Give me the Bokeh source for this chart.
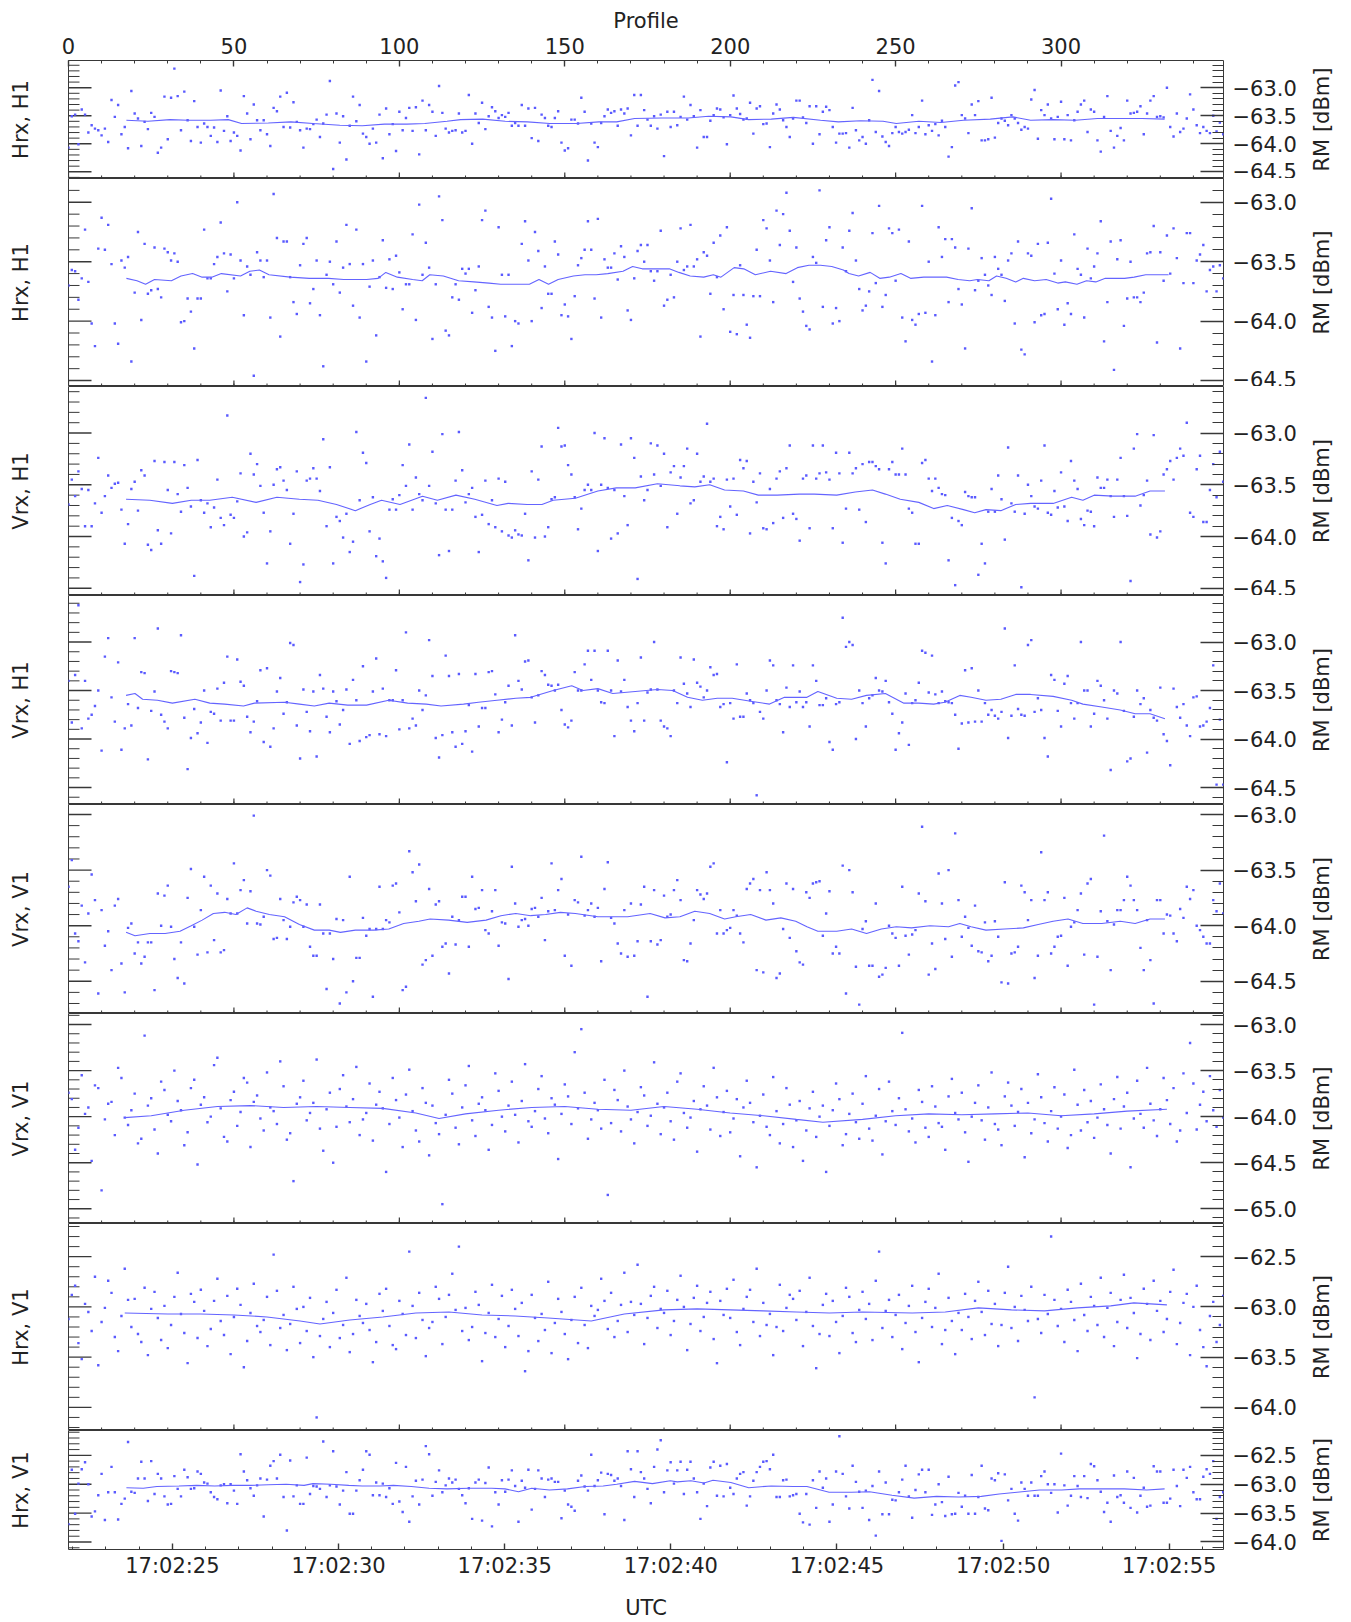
import math
import numpy as np
from bokeh.plotting import figure
from bokeh.layouts import column, row
from bokeh.models import (Range1d, LinearAxis, FixedTicker, SingleIntervalTicker,
                          CustomJSTickFormatter)
from bokeh.core.properties import value
from bokeh.embed import file_html
from bokeh.resources import INLINE

# ---------------------------------------------------------------------------
# Received power (RM, dBm) per profile for each channel pair, plus running mean
# ---------------------------------------------------------------------------
LABELS = ["Hrx, H1", "Hrx, H1", "Vrx, H1", "Vrx, H1",
          "Vrx, V1", "Vrx, V1", "Hrx, V1", "Hrx, V1"]

RM_1 = [
    -64.07, -63.51, -63.48, -64.01, -63.39, -63.48, -63.80, -63.67, -63.73, -63.76,
    -63.85, -63.73, -63.97, -63.22, -63.52, -63.31, -63.83, -63.70, -64.08, -63.06,
    -63.46, -63.55, -64.04, -63.61, -63.74, -63.45, -63.52, -64.16, -64.07, -63.16,
    -63.92, -63.18, -62.66, -63.15, -63.76, -63.07, -63.58, -63.95, -63.24, -63.70,
    -63.98, -63.64, -63.70, -63.86, -63.71, -63.97, -63.05, -63.77, -63.51, -63.95,
    -63.80, -63.86, -64.12, -63.15, -63.46, -63.92, -63.30, -63.58, -63.76, -63.58,
    -63.83, -64.04, -63.36, -63.42, -63.16, -63.70, -63.09, -63.71, -63.26, -63.61,
    -63.76, -64.07, -63.73, -63.74, -63.65, -63.57, -63.88, -63.64, -63.48, -62.88,
    -64.45, -63.46, -63.98, -63.51, -64.28, -63.68, -63.16, -63.60, -63.31, -63.82,
    -63.88, -64.00, -63.73, -63.98, -63.48, -64.26, -63.37, -63.83, -63.65, -64.13,
    -63.43, -63.76, -63.54, -63.36, -63.77, -63.35, -64.19, -63.23, -63.76, -63.31,
    -63.43, -63.86, -62.97, -63.45, -63.73, -63.80, -63.77, -63.76, -63.46, -63.80,
    -63.77, -63.13, -64.00, -63.46, -63.63, -63.27, -63.74, -63.51, -63.35, -63.42,
    -63.54, -63.49, -63.52, -63.45, -63.68, -63.63, -63.68, -63.31, -63.68, -63.37,
    -63.90, -63.36, -63.95, -63.48, -63.54, -63.68, -63.70, -63.54, -63.42, -63.98,
    -64.12, -64.08, -63.57, -63.57, -63.64, -63.18, -63.43, -64.30, -63.64, -63.98,
    -64.06, -63.63, -63.51, -63.39, -63.45, -63.42, -63.68, -63.39, -63.46, -63.37,
    -63.85, -63.13, -63.68, -63.13, -63.40, -63.57, -63.68, -63.51, -63.73, -63.48,
    -64.22, -63.43, -63.70, -63.43, -63.67, -63.52, -63.16, -63.57, -63.31, -63.51,
    -64.07, -63.40, -63.88, -63.88, -63.59, -63.49, -63.37, -63.39, -63.53, -64.01,
    -63.49, -63.14, -63.37, -63.47, -63.57, -63.55, -63.27, -63.82, -63.37, -63.33,
    -63.65, -63.64, -64.06, -63.46, -63.30, -63.39, -63.58, -63.70, -63.88, -63.55,
    -63.23, -63.23, -63.53, -63.63, -63.33, -64.00, -63.33, -63.83, -63.43, -63.34,
    -63.40, -63.70, -63.98, -63.82, -63.82, -63.81, -64.07, -63.36, -63.76, -63.94,
    -63.88, -64.00, -63.58, -62.86, -63.79, -63.06, -63.87, -63.97, -64.04, -63.81,
    -63.70, -63.79, -63.82, -63.79, -63.75, -63.49, -63.81, -63.70, -63.23, -63.83,
    -63.67, -63.77, -63.65, -63.85, -63.59, -63.70, -64.23, -64.06, -62.96, -62.90,
    -63.49, -63.55, -63.81, -63.30, -63.49, -63.24, -63.94, -63.94, -63.92, -63.18,
    -63.89, -63.63, -63.55, -63.59, -63.67, -63.49, -63.55, -63.63, -63.75, -63.70,
    -63.73, -63.21, -63.04, -63.91, -63.40, -63.49, -63.30, -63.55, -63.92, -63.52,
    -63.25, -63.92, -63.49, -63.94, -63.58, -63.43, -63.30, -63.23, -63.79, -63.39,
    -63.43, -63.94, -64.14, -63.52, -63.15, -63.77, -64.07, -63.86, -63.72, -63.94,
    -63.23, -63.46, -63.45, -63.43, -63.33, -63.83, -63.46, -63.23, -63.15, -63.52,
    -63.51, -63.53, -63.00, -63.70, -63.87, -63.46, -63.79, -63.73, -63.55, -63.12,
    -63.39, -63.67, -63.81, -63.70, -63.77, -63.81, -63.50, -63.78, -63.62, -63.83,
]
MEAN_1_P = [17.5, 24.0, 30.7, 36.1, 42.9, 48.3, 52.3, 60.4, 67.2, 73.9, 82.0, 88.8,
            95.5, 102.3, 107.7, 114.4, 118.5, 125.2, 132.0, 138.7, 145.5, 153.5,
            160.3, 165.7, 171.1, 179.2, 187.3, 193.5, 200.2, 205.6, 212.4, 219.1,
            227.3, 232.7, 239.4, 246.2, 250.2, 257.0, 263.7, 270.5, 278.6, 285.4,
            290.8, 297.5, 304.3, 311.0, 317.8, 324.5, 331.3]
MEAN_1_V = [-63.58, -63.60, -63.57, -63.58, -63.58, -63.57, -63.64, -63.63, -63.61,
            -63.64, -63.67, -63.68, -63.65, -63.65, -63.64, -63.60, -63.57, -63.56,
            -63.60, -63.61, -63.64, -63.64, -63.61, -63.61, -63.55, -63.54, -63.54,
            -63.51, -63.52, -63.57, -63.56, -63.53, -63.58, -63.61, -63.59, -63.60,
            -63.64, -63.60, -63.62, -63.58, -63.56, -63.52, -63.58, -63.57, -63.58,
            -63.55, -63.55, -63.55, -63.56]

RM_2 = [
    -63.70, -63.57, -63.58, -63.82, -63.64, -63.23, -63.67, -64.02, -64.21, -63.39,
    -63.13, -63.40, -63.19, -63.52, -64.02, -64.19, -63.49, -63.55, -63.46, -64.34,
    -63.76, -63.25, -63.99, -63.35, -63.77, -63.74, -63.38, -63.73, -63.80, -63.39,
    -63.42, -63.49, -63.43, -63.50, -64.01, -64.00, -63.81, -63.92, -64.23, -63.81,
    -63.81, -63.23, -63.64, -63.64, -63.52, -63.46, -63.17, -63.43, -63.75, -63.44,
    -63.64, -63.00, -63.49, -63.95, -63.54, -63.61, -64.46, -63.42, -63.49, -63.63,
    -63.49, -63.97, -62.93, -63.30, -64.13, -63.33, -63.33, -63.63, -63.84, -63.94,
    -63.53, -63.35, -63.30, -63.85, -63.73, -63.49, -63.95, -64.38, -63.61, -63.50,
    -63.69, -63.33, -63.76, -63.55, -63.19, -63.52, -63.87, -63.23, -63.97, -63.52,
    -64.34, -63.71, -63.49, -64.12, -63.63, -63.32, -63.72, -63.48, -63.73, -63.45,
    -63.59, -63.90, -63.69, -63.69, -63.27, -63.99, -63.02, -63.61, -63.34, -63.55,
    -64.15, -63.69, -62.95, -63.15, -64.08, -64.12, -63.80, -63.69, -63.82, -63.56,
    -63.60, -63.56, -63.93, -63.74, -63.54, -63.15, -63.07, -63.88, -63.97, -64.25,
    -63.21, -63.61, -63.96, -63.61, -64.21, -64.00, -64.02, -63.35, -63.16, -63.49,
    -64.00, -63.25, -63.41, -63.89, -63.54, -63.77, -63.77, -63.33, -63.44, -63.95,
    -63.86, -63.96, -64.15, -63.79, -63.53, -63.47, -63.40, -63.16, -63.40, -63.81,
    -63.14, -63.97, -63.48, -63.55, -63.55, -63.43, -63.65, -63.37, -63.46, -63.91,
    -63.99, -63.64, -63.41, -63.36, -63.50, -63.36, -63.58, -63.66, -63.58, -63.24,
    -63.87, -63.82, -63.61, -63.80, -63.50, -63.22, -63.57, -63.54, -63.19, -63.54,
    -63.48, -64.13, -63.42, -63.45, -63.77, -63.34, -63.63, -63.28, -63.90, -63.21,
    -64.09, -63.78, -64.11, -63.53, -63.78, -64.03, -64.14, -63.79, -63.40, -63.79,
    -63.15, -63.22, -63.49, -63.84, -63.07, -63.36, -63.10, -62.92, -63.24, -63.67,
    -63.38, -63.81, -63.92, -64.04, -64.07, -63.46, -63.51, -62.90, -63.88, -63.32,
    -63.21, -64.02, -63.89, -64.00, -63.38, -63.58, -63.24, -63.09, -63.49, -63.73,
    -63.91, -63.87, -63.75, -63.26, -63.68, -63.03, -63.88, -63.78, -63.22, -63.26,
    -63.66, -63.23, -63.97, -64.17, -63.33, -63.99, -64.03, -63.94, -63.03, -63.93,
    -63.50, -64.34, -63.95, -63.21, -63.46, -63.31, -63.84, -63.31, -63.38, -63.73,
    -63.86, -64.23, -63.39, -63.05, -63.74, -63.66, -63.47, -63.61, -63.70, -63.78,
    -63.46, -63.56, -63.61, -63.83, -63.49, -63.43, -64.02, -63.33, -64.24, -64.28,
    -63.43, -63.45, -64.01, -63.35, -63.95, -63.94, -63.34, -62.97, -63.60, -63.90,
    -63.49, -64.03, -63.85, -63.94, -63.27, -63.56, -63.61, -63.97, -63.39, -63.64,
    -63.54, -63.43, -63.16, -64.17, -63.84, -63.33, -64.41, -63.48, -63.32, -64.04,
    -63.81, -63.50, -63.80, -63.80, -63.84, -63.76, -63.43, -63.42, -63.20, -64.18,
    -63.42, -63.66, -63.28, -63.60, -63.22, -63.47, -64.23, -63.68, -63.26, -63.26,
    -63.68, -63.49, -63.44, -63.36, -63.75, -63.57, -63.54, -63.75, -63.53, -63.64,
]
MEAN_2_P = [17.5, 20.7, 23.3, 26.0, 31.1, 34.0, 37.5, 40.4, 43.3, 46.2, 52.0, 54.8,
            57.7, 60.6, 67.0, 72.8, 78.6, 83.2, 86.6, 90.1, 93.6, 95.9, 99.4, 104.0,
            106.9, 109.2, 113.3, 117.9, 122.5, 127.1, 130.6, 136.4, 139.3, 142.2,
            145.1, 148.0, 152.6, 156.1, 159.5, 163.0, 167.6, 170.5, 173.4, 181.6,
            184.5, 187.9, 192.0, 194.9, 197.2, 201.2, 204.1, 207.6, 212.2, 216.9,
            220.3, 223.8, 227.3, 230.7, 234.2, 235.9, 238.8, 242.3, 245.2, 248.1,
            251.6, 254.5, 258.5, 262.0, 265.4, 268.9, 272.4, 274.7, 278.2, 280.5,
            283.4, 286.3, 288.6, 292.0, 295.5, 299.0, 301.3, 304.8, 307.7, 310.5,
            313.4, 316.3, 319.2, 322.1, 325.6, 329.1, 332.5]
MEAN_2_V = [-63.64, -63.66, -63.69, -63.65, -63.66, -63.62, -63.60, -63.63, -63.63,
            -63.60, -63.62, -63.58, -63.57, -63.61, -63.63, -63.64, -63.64, -63.65,
            -63.65, -63.65, -63.64, -63.59, -63.63, -63.65, -63.66, -63.61, -63.62,
            -63.66, -63.67, -63.68, -63.69, -63.69, -63.69, -63.65, -63.69, -63.65,
            -63.62, -63.61, -63.61, -63.60, -63.58, -63.54, -63.56, -63.56, -63.59,
            -63.62, -63.63, -63.61, -63.63, -63.55, -63.56, -63.61, -63.58, -63.60,
            -63.55, -63.53, -63.53, -63.54, -63.57, -63.60, -63.62, -63.59, -63.64,
            -63.63, -63.60, -63.64, -63.63, -63.63, -63.63, -63.65, -63.66, -63.65,
            -63.66, -63.62, -63.64, -63.67, -63.64, -63.66, -63.65, -63.68, -63.67,
            -63.69, -63.66, -63.67, -63.64, -63.64, -63.64, -63.63, -63.61, -63.61,
            -63.61]

RM_3 = [
    -63.69, -63.45, -63.61, -63.37, -63.54, -63.90, -63.55, -63.90, -63.68, -63.24,
    -63.77, -63.61, -63.41, -63.53, -63.49, -63.48, -63.74, -64.07, -63.88, -63.54,
    -63.47, -63.75, -63.36, -63.41, -64.08, -64.13, -63.27, -63.94, -64.07, -63.28,
    -63.55, -63.97, -63.28, -63.59, -63.76, -63.31, -63.53, -63.71, -64.38, -63.26,
    -63.65, -63.77, -63.68, -63.91, -63.72, -63.45, -63.82, -63.89, -62.83, -63.79,
    -63.82, -63.66, -63.39, -64.00, -63.96, -63.20, -63.40, -63.30, -63.51, -63.77,
    -64.26, -63.95, -63.50, -63.35, -63.33, -63.46, -63.55, -64.07, -63.78, -63.37,
    -64.44, -64.27, -63.46, -63.44, -63.34, -63.44, -63.56, -63.06, -63.90, -63.33,
    -64.26, -63.81, -63.85, -64.01, -63.78, -64.15, -64.05, -62.99, -63.65, -63.19,
    -63.29, -63.95, -63.62, -64.19, -64.02, -64.24, -64.40, -63.74, -63.64, -63.74,
    -63.60, -63.31, -63.51, -63.11, -63.74, -63.43, -63.59, -63.65, -62.66, -63.51,
    -63.18, -63.68, -64.18, -63.01, -63.74, -64.14, -63.74, -63.46, -62.99, -63.36,
    -63.67, -63.59, -63.53, -63.81, -64.15, -63.79, -63.46, -63.88, -63.65, -63.91,
    -63.44, -63.95, -63.47, -63.99, -64.01, -63.94, -63.98, -63.99, -63.78, -64.23,
    -63.37, -64.01, -63.45, -63.13, -64.00, -63.91, -63.64, -63.62, -62.95, -63.13,
    -63.12, -63.31, -63.40, -63.62, -63.93, -63.73, -63.55, -63.50, -63.55, -63.00,
    -64.14, -63.50, -63.05, -63.53, -64.02, -63.55, -63.97, -63.11, -63.61, -63.89,
    -63.05, -63.24, -64.41, -63.42, -63.65, -63.55, -63.10, -63.40, -63.12, -63.51,
    -63.20, -63.91, -63.38, -63.32, -63.78, -63.43, -63.32, -63.15, -63.68, -63.65,
    -63.20, -63.47, -63.42, -62.91, -63.47, -63.44, -63.90, -63.81, -63.93, -63.45,
    -63.71, -63.44, -63.79, -63.26, -63.34, -63.27, -63.97, -63.47, -63.67, -63.39,
    -63.92, -63.93, -63.54, -63.87, -63.44, -63.37, -63.82, -63.34, -63.12, -63.78,
    -63.83, -64.04, -63.44, -63.41, -63.92, -63.12, -63.44, -63.39, -63.12, -63.38,
    -63.45, -63.92, -63.19, -63.39, -64.06, -63.73, -63.19, -63.39, -63.34, -63.74,
    -63.30, -63.86, -63.28, -63.28, -63.32, -63.35, -64.06, -64.26, -63.35, -63.28,
    -63.40, -63.40, -63.15, -63.40, -63.73, -63.77, -64.07, -64.07, -63.29, -63.26,
    -63.44, -63.56, -63.44, -63.53, -63.59, -63.60, -64.23, -63.82, -64.47, -63.85,
    -63.89, -63.57, -63.61, -63.62, -63.62, -64.37, -64.07, -64.26, -63.76, -63.54,
    -63.76, -63.41, -63.64, -64.03, -63.14, -63.68, -63.76, -63.41, -64.49, -63.78,
    -63.50, -63.61, -63.71, -63.73, -63.46, -63.12, -63.77, -63.79, -63.56, -63.72,
    -63.38, -63.71, -63.85, -63.27, -63.46, -63.54, -63.83, -63.89, -63.75, -63.76,
    -63.90, -63.43, -63.53, -63.53, -63.45, -63.61, -63.81, -63.45, -63.24, -63.61,
    -63.80, -64.43, -63.15, -63.01, -63.70, -63.60, -63.46, -63.98, -63.02, -64.01,
    -63.95, -63.40, -63.35, -63.27, -63.45, -63.24, -63.15, -63.22, -62.90, -63.77,
    -63.81, -63.35, -63.22, -63.86, -63.86, -63.55, -63.30, -63.62, -63.18, -63.47,
]
MEAN_3_P = [17.4, 24.6, 31.4, 37.1, 42.7, 49.5, 56.7, 63.0, 69.8, 75.4, 81.0, 86.7,
            91.2, 94.6, 100.2, 107.0, 111.5, 117.1, 122.8, 129.5, 132.9, 138.6,
            143.1, 146.5, 153.2, 160.0, 165.6, 171.3, 178.0, 184.8, 189.3, 193.8,
            198.3, 204.0, 208.5, 214.2, 220.9, 225.4, 232.2, 237.8, 243.0, 246.9,
            251.4, 257.0, 261.5, 265.6, 270.5, 273.9, 277.3, 281.8, 286.3, 290.8,
            297.6, 303.2, 306.6, 310.0, 315.6, 322.4, 326.9, 331.4]
MEAN_3_V = [-63.64, -63.65, -63.68, -63.65, -63.65, -63.62, -63.67, -63.62, -63.64,
            -63.65, -63.69, -63.75, -63.69, -63.65, -63.69, -63.61, -63.65, -63.60,
            -63.64, -63.70, -63.68, -63.69, -63.69, -63.65, -63.63, -63.56, -63.53,
            -63.53, -63.49, -63.51, -63.52, -63.50, -63.55, -63.56, -63.60, -63.60,
            -63.59, -63.59, -63.60, -63.57, -63.55, -63.59, -63.64, -63.67, -63.73,
            -63.70, -63.74, -63.77, -63.74, -63.75, -63.69, -63.68, -63.68, -63.62,
            -63.65, -63.60, -63.61, -63.61, -63.56, -63.56]

RM_4 = [
    -63.40, -63.83, -63.34, -62.62, -63.89, -63.40, -63.79, -63.75, -63.66, -63.50,
    -64.12, -63.15, -62.96, -63.57, -63.82, -63.21, -64.11, -63.89, -63.64, -63.86,
    -62.96, -63.68, -63.31, -63.32, -64.21, -63.71, -63.51, -62.86, -63.75, -63.82,
    -63.89, -63.30, -63.31, -63.32, -62.93, -63.78, -64.31, -63.99, -63.69, -63.94,
    -63.83, -63.50, -64.04, -63.72, -63.74, -63.48, -63.81, -63.42, -63.15, -63.81,
    -63.81, -63.18, -63.41, -63.45, -63.77, -63.93, -63.82, -63.61, -63.29, -64.03,
    -63.27, -64.08, -63.89, -63.51, -63.37, -63.74, -63.62, -63.01, -63.03, -63.86,
    -64.20, -63.49, -63.72, -63.92, -63.51, -64.18, -63.34, -63.48, -63.77, -63.93,
    -63.51, -63.61, -63.85, -63.70, -63.49, -64.05, -63.39, -63.60, -64.02, -63.25,
    -63.98, -63.96, -63.51, -63.17, -63.95, -63.48, -63.97, -63.60, -63.60, -63.29,
    -63.90, -63.60, -62.90, -63.89, -63.79, -63.86, -63.50, -63.70, -63.55, -62.98,
    -63.35, -63.99, -64.19, -63.96, -63.14, -63.35, -63.93, -64.08, -63.33, -64.05,
    -63.92, -63.65, -64.13, -63.33, -63.87, -63.68, -63.68, -63.31, -63.30, -63.54,
    -63.93, -63.80, -63.62, -63.45, -63.86, -62.93, -63.40, -63.49, -63.20, -63.19,
    -63.57, -63.83, -63.55, -63.30, -63.34, -63.44, -63.45, -63.50, -63.44, -63.70,
    -63.85, -63.88, -63.81, -63.31, -63.50, -63.50, -63.23, -63.09, -63.39, -63.09,
    -63.50, -63.62, -63.63, -63.09, -63.50, -63.97, -63.19, -63.51, -63.39, -63.67,
    -63.81, -63.92, -63.63, -63.16, -63.81, -63.52, -63.49, -63.00, -63.49, -63.81,
    -63.87, -63.89, -63.97, -63.50, -63.63, -63.16, -63.43, -63.53, -63.67, -63.18,
    -63.42, -63.46, -63.57, -63.50, -63.26, -63.34, -63.33, -63.67, -63.64, -64.24,
    -63.63, -63.79, -63.23, -63.77, -63.77, -63.53, -63.60, -63.63, -64.58, -63.72,
    -63.79, -63.50, -63.19, -63.24, -63.60, -63.64, -63.93, -63.47, -63.67, -63.24,
    -63.62, -63.51, -63.67, -63.62, -63.87, -63.24, -63.40, -63.65, -63.65, -63.58,
    -64.03, -64.11, -63.64, -63.62, -62.75, -63.05, -63.00, -63.03, -64.00, -63.50,
    -63.63, -63.87, -63.58, -63.55, -63.37, -63.50, -63.51, -63.40, -63.62, -63.74,
    -64.11, -63.94, -63.83, -63.53, -64.06, -63.63, -63.60, -63.42, -63.09, -63.11,
    -63.52, -63.14, -63.54, -63.63, -63.51, -63.61, -63.62, -63.63, -63.75, -64.10,
    -63.84, -63.29, -63.83, -63.27, -63.82, -63.50, -63.82, -63.63, -63.75, -63.70,
    -63.76, -63.79, -63.72, -62.86, -63.99, -63.76, -63.24, -63.69, -63.75, -63.76,
    -63.03, -62.98, -63.72, -63.58, -63.70, -63.99, -64.18, -63.34, -63.39, -63.71,
    -63.87, -63.43, -63.35, -63.63, -63.79, -63.63, -63.00, -63.50, -63.50, -63.87,
    -63.74, -63.40, -63.45, -63.60, -63.79, -64.32, -63.50, -63.53, -63.00, -63.71,
    -64.23, -64.20, -63.77, -63.50, -63.64, -63.58, -64.14, -63.70, -63.78, -63.81,
    -63.47, -63.95, -64.02, -64.27, -63.48, -63.67, -63.78, -63.64, -63.86, -63.97,
    -63.57, -63.56, -63.87, -63.86, -63.82, -63.68, -63.24, -64.47, -63.80, -64.47,
]
MEAN_4_P = [17.4, 20.1, 22.4, 26.9, 31.4, 38.2, 42.7, 47.2, 52.9, 56.2, 65.3, 69.8,
            74.3, 78.8, 84.4, 90.1, 96.8, 102.5, 108.1, 112.6, 119.4, 123.9, 129.5,
            135.2, 139.7, 146.5, 152.1, 155.5, 160.0, 164.5, 171.3, 178.0, 182.6,
            187.1, 191.6, 196.1, 200.6, 206.2, 211.9, 216.4, 223.2, 226.5, 232.2,
            236.7, 241.2, 246.9, 252.5, 257.0, 261.5, 264.9, 269.4, 272.8, 277.3,
            281.8, 286.3, 290.8, 297.6, 303.2, 306.6, 312.3, 317.9, 322.4, 326.9,
            331.4]
MEAN_4_V = [-63.55, -63.53, -63.59, -63.60, -63.63, -63.59, -63.63, -63.64, -63.66,
            -63.63, -63.62, -63.64, -63.66, -63.63, -63.65, -63.65, -63.60, -63.63,
            -63.64, -63.66, -63.64, -63.62, -63.60, -63.58, -63.57, -63.50, -63.45,
            -63.50, -63.48, -63.53, -63.51, -63.49, -63.50, -63.57, -63.60, -63.58,
            -63.58, -63.61, -63.64, -63.57, -63.57, -63.51, -63.58, -63.59, -63.55,
            -63.53, -63.63, -63.63, -63.64, -63.62, -63.55, -63.57, -63.60, -63.59,
            -63.54, -63.54, -63.56, -63.60, -63.64, -63.67, -63.70, -63.74, -63.74,
            -63.79]

RM_5 = [
    -63.65, -63.41, -64.07, -64.14, -63.82, -64.33, -63.89, -63.54, -63.77, -64.61,
    -63.86, -64.18, -64.05, -64.40, -63.82, -63.76, -64.34, -64.60, -64.02, -63.98,
    -64.25, -64.15, -64.34, -64.28, -64.15, -64.15, -64.58, -63.71, -64.00, -63.73,
    -63.64, -64.01, -64.30, -64.47, -64.15, -64.52, -63.75, -63.49, -64.01, -64.26,
    -63.86, -63.56, -64.24, -63.64, -64.13, -63.71, -64.24, -64.22, -63.76, -63.89,
    -63.44, -63.89, -63.68, -63.59, -63.98, -63.69, -63.01, -63.98, -63.99, -63.92,
    -63.50, -63.55, -64.12, -64.11, -63.76, -63.95, -64.12, -64.01, -63.79, -63.74,
    -63.77, -64.01, -63.81, -64.19, -64.27, -64.27, -63.81, -64.07, -64.57, -64.07,
    -64.30, -63.94, -64.70, -63.95, -64.60, -63.56, -64.50, -64.29, -64.29, -63.93,
    -64.09, -64.03, -64.64, -64.03, -63.65, -64.03, -63.95, -63.97, -63.64, -63.62,
    -63.88, -64.58, -64.55, -63.33, -63.52, -63.78, -63.45, -64.35, -64.31, -63.67,
    -64.27, -63.81, -63.78, -64.19, -64.16, -64.43, -63.92, -64.17, -63.95, -63.74,
    -63.74, -64.19, -63.56, -63.85, -63.84, -63.68, -64.04, -64.07, -63.87, -63.68,
    -64.18, -63.97, -63.98, -64.48, -63.47, -63.80, -64.01, -63.95, -63.94, -64.00,
    -63.85, -63.84, -63.92, -63.75, -64.13, -63.87, -63.44, -63.86, -63.68, -63.58,
    -64.27, -63.90, -64.36, -63.77, -63.79, -63.38, -63.91, -63.86, -63.80, -63.92,
    -63.84, -64.32, -63.67, -63.43, -63.93, -63.98, -64.16, -64.25, -63.86, -64.28,
    -63.80, -64.27, -64.14, -63.81, -63.65, -64.64, -64.14, -63.68, -64.17, -64.13,
    -63.73, -63.92, -63.90, -63.68, -63.59, -63.77, -64.31, -64.32, -64.16, -63.95,
    -63.68, -63.72, -63.76, -63.71, -63.47, -63.44, -64.07, -63.86, -64.07, -64.04,
    -64.02, -63.86, -63.91, -64.07, -64.15, -63.67, -63.62, -63.58, -64.40, -63.68,
    -64.42, -63.52, -63.68, -63.80, -64.47, -64.43, -64.03, -63.62, -64.11, -63.67,
    -64.23, -64.33, -64.35, -63.70, -63.75, -63.62, -63.61, -63.60, -64.09, -63.89,
    -63.69, -64.25, -64.19, -64.25, -63.46, -64.61, -63.50, -63.70, -64.37, -64.71,
    -64.03, -63.96, -64.36, -64.36, -63.80, -64.46, -64.44, -64.38, -64.00, -64.07,
    -64.11, -64.36, -63.65, -64.09, -64.26, -64.08, -64.04, -63.71, -63.11, -63.78,
    -64.44, -64.16, -64.39, -63.53, -63.80, -64.12, -63.50, -64.28, -63.17, -63.77,
    -64.10, -63.92, -64.02, -64.18, -63.82, -64.23, -64.24, -63.97, -64.32, -64.27,
    -63.96, -64.10, -64.51, -63.61, -64.52, -64.25, -64.24, -64.19, -63.64, -63.70,
    -63.95, -63.77, -64.47, -64.27, -63.34, -63.77, -63.70, -64.25, -64.19, -64.10,
    -64.09, -63.75, -64.36, -64.01, -63.97, -63.86, -63.71, -64.26, -63.62, -63.58,
    -64.71, -64.28, -63.87, -63.19, -63.96, -64.40, -63.99, -63.86, -63.86, -63.77,
    -63.56, -63.64, -63.77, -63.86, -64.20, -64.40, -63.95, -64.31, -64.70, -63.77,
    -63.77, -64.07, -63.90, -63.91, -64.07, -64.14, -63.85, -63.93, -63.65, -63.76,
    -63.68, -64.00, -64.04, -64.10, -64.16, -64.16, -63.77, -63.87, -63.62, -63.89,
]
MEAN_5_P = [17.4, 20.1, 24.6, 29.2, 33.7, 37.1, 40.4, 43.8, 47.2, 50.6, 54.0, 56.7,
            60.7, 65.3, 69.8, 74.3, 78.8, 82.2, 86.7, 92.3, 96.8, 101.3, 105.9, 109.3,
            114.9, 120.5, 126.2, 130.7, 135.2, 139.7, 144.2, 148.7, 153.2, 160.0,
            169.0, 175.8, 180.3, 184.8, 189.3, 193.8, 198.3, 201.7, 206.2, 210.8,
            215.3, 219.8, 223.2, 226.5, 232.2, 236.7, 241.2, 245.7, 250.2, 254.8,
            260.4, 266.0, 269.4, 272.8, 277.3, 282.9, 288.6, 293.1, 297.6, 302.1,
            306.6, 312.3, 317.9, 322.4, 326.9, 331.4]
MEAN_5_V = [-64.06, -64.09, -64.07, -64.07, -64.05, -64.00, -63.95, -63.89, -63.88,
            -63.90, -63.84, -63.87, -63.90, -63.92, -63.99, -64.04, -64.04, -64.06,
            -64.04, -64.04, -64.03, -63.98, -63.96, -63.94, -63.95, -63.97, -63.95,
            -63.91, -63.89, -63.91, -63.90, -63.88, -63.89, -63.92, -63.92, -63.89,
            -63.93, -63.92, -63.87, -63.89, -63.94, -63.92, -63.90, -63.95, -63.93,
            -63.96, -64.01, -64.05, -64.05, -64.03, -64.07, -64.03, -64.01, -64.02,
            -64.00, -64.01, -63.98, -64.01, -64.04, -64.03, -64.02, -63.99, -63.96,
            -63.94, -63.98, -63.98, -63.96, -63.98, -63.94, -63.94]

RM_6 = [
    -63.74, -63.81, -64.36, -64.12, -63.55, -63.97, -63.90, -64.48, -63.66, -63.69,
    -64.80, -64.03, -63.86, -63.84, -64.20, -63.47, -63.58, -64.01, -64.09, -63.93,
    -63.75, -64.29, -64.24, -63.12, -63.88, -63.80, -64.14, -64.40, -63.62, -63.71,
    -63.98, -64.05, -63.50, -63.83, -63.93, -64.31, -64.17, -63.69, -63.60, -64.52,
    -63.87, -63.79, -64.06, -64.00, -63.44, -63.36, -63.91, -64.22, -64.27, -63.82,
    -63.73, -64.10, -63.95, -63.58, -63.63, -64.33, -63.84, -63.77, -64.02, -64.15,
    -63.52, -63.90, -63.94, -64.08, -63.40, -63.67, -64.25, -64.18, -64.70, -63.86,
    -63.79, -63.61, -64.04, -63.96, -63.85, -63.38, -64.13, -64.37, -63.92, -63.74,
    -64.50, -64.11, -63.70, -63.55, -63.89, -64.06, -63.81, -63.46, -64.20, -64.03,
    -63.96, -63.64, -64.26, -63.87, -63.73, -63.91, -64.60, -64.08, -63.58, -63.82,
    -64.01, -64.33, -63.76, -63.49, -63.94, -64.15, -64.27, -63.69, -63.85, -64.42,
    -63.88, -64.07, -64.19, -64.95, -63.98, -63.60, -63.75, -64.12, -64.30, -63.90,
    -63.66, -63.45, -64.04, -64.21, -63.86, -63.79, -63.93, -64.36, -64.09, -63.53,
    -63.72, -64.00, -64.16, -63.88, -63.62, -63.98, -64.28, -63.83, -63.43, -64.05,
    -64.11, -63.94, -63.70, -63.56, -64.02, -64.18, -63.80, -63.87, -64.46, -63.97,
    -63.65, -63.78, -64.08, -63.30, -63.91, -63.05, -63.74, -64.24, -64.03, -63.85,
    -63.93, -64.13, -63.60, -64.85, -64.07, -63.71, -63.82, -64.16, -63.50, -63.89,
    -64.03, -64.29, -63.95, -63.68, -63.77, -64.10, -63.99, -63.41, -63.86, -64.19,
    -63.90, -63.74, -64.05, -64.25, -63.62, -63.53, -63.96, -64.12, -64.01, -63.83,
    -64.38, -63.92, -63.67, -63.88, -64.14, -63.47, -63.79, -64.21, -63.95, -63.72,
    -64.17, -64.02, -63.81, -64.43, -63.90, -63.61, -63.85, -64.06, -64.55, -63.99,
    -63.76, -64.11, -64.20, -63.57, -63.94, -64.29, -64.08, -63.69, -63.87, -64.33,
    -64.04, -63.83, -64.48, -64.15, -63.91, -63.73, -64.22, -64.00, -63.88, -64.60,
    -64.10, -63.93, -63.64, -63.81, -64.31, -64.19, -63.97, -63.75, -64.06, -64.24,
    -63.86, -63.56, -64.13, -64.26, -63.99, -63.70, -64.41, -64.05, -63.62, -63.94,
    -64.09, -63.80, -63.09, -63.92, -64.16, -64.02, -64.28, -63.71, -63.84, -64.12,
    -64.22, -63.67, -63.89, -64.07, -64.11, -64.36, -63.78, -63.59, -63.96, -64.03,
    -63.74, -64.17, -64.49, -64.00, -63.85, -63.66, -64.04, -64.25, -63.90, -63.52,
    -64.08, -64.14, -64.31, -63.78, -63.63, -63.88, -64.10, -63.95, -63.70, -64.44,
    -63.85, -64.18, -64.03, -63.54, -63.79, -64.07, -64.27, -63.94, -63.68, -64.13,
    -64.00, -63.76, -64.34, -64.20, -63.49, -63.87, -64.15, -63.71, -64.06, -63.83,
    -64.23, -64.01, -63.65, -63.92, -64.09, -64.40, -63.81, -63.57, -64.13, -63.89,
    -63.74, -64.55, -64.02, -63.61, -63.97, -64.12, -63.47, -63.86, -64.04, -64.21,
    -63.92, -63.58, -63.82, -64.08, -63.69, -64.27, -64.15, -63.53, -63.96, -63.20,
    -63.64, -64.14, -63.87, -63.73, -64.05, -63.56, -63.93, -64.11, -63.71, -64.01,
]
MEAN_6_P = [17, 25, 35, 45, 55, 65, 75, 85, 95, 105, 112, 120, 130, 140, 150, 160,
            170, 180, 190, 200, 210, 220, 228, 240, 250, 260, 270, 280, 290, 300,
            310, 320, 332]
MEAN_6_V = [-64.01, -63.99, -63.93, -63.89, -63.88, -63.90, -63.89, -63.90, -63.91,
            -63.96, -64.02, -63.97, -63.93, -63.90, -63.89, -63.92, -63.93, -63.89,
            -63.92, -63.96, -63.99, -64.03, -64.06, -64.03, -63.99, -63.97, -63.98,
            -63.97, -63.96, -63.99, -63.97, -63.94, -63.92]

RM_7 = [
    -63.12, -62.88, -62.79, -63.36, -63.52, -62.97, -63.05, -63.24, -62.70, -63.58,
    -63.15, -63.01, -62.74, -62.86, -63.30, -63.44, -63.09, -62.62, -62.93, -63.20,
    -62.92, -63.27, -63.35, -62.81, -63.48, -63.02, -62.85, -63.11, -63.33, -62.99,
    -63.41, -63.18, -62.90, -62.66, -63.07, -63.26, -63.56, -62.87, -62.95, -63.31,
    -62.83, -63.04, -63.39, -63.22, -62.94, -62.72, -63.14, -63.28, -62.89, -63.47,
    -63.10, -62.82, -62.98, -63.60, -63.34, -63.06, -62.77, -63.19, -63.25, -63.13,
    -62.90, -63.38, -62.48, -62.84, -63.21, -63.08, -63.43, -63.17, -62.80, -63.02,
    -63.36, -63.00, -63.24, -62.91, -63.50, -64.10, -63.29, -63.12, -62.95, -63.40,
    -63.06, -62.83, -63.31, -63.18, -62.71, -63.45, -63.27, -62.93, -63.09, -63.16,
    -62.97, -63.23, -63.55, -63.35, -62.87, -63.04, -62.82, -63.19, -63.38, -63.42,
    -62.94, -63.07, -63.28, -62.45, -62.99, -63.31, -62.86, -63.13, -63.49, -63.21,
    -63.15, -62.80, -62.92, -63.37, -63.10, -62.88, -62.67, -63.03, -62.40, -63.24,
    -63.01, -63.33, -63.20, -62.85, -62.98, -63.54, -63.26, -63.06, -62.78, -63.30,
    -63.12, -62.89, -63.40, -63.19, -62.83, -63.02, -63.29, -62.96, -63.64, -63.44,
    -62.88, -63.11, -63.34, -63.07, -63.23, -62.75, -63.46, -63.16, -62.92, -63.05,
    -63.27, -63.52, -63.13, -62.90, -63.36, -62.81, -63.18, -63.41, -62.99, -63.09,
    -63.03, -62.72, -62.94, -63.22, -62.86, -63.30, -63.14, -62.98, -62.66, -63.25,
    -62.95, -63.08, -62.58, -62.97, -63.37, -63.11, -62.89, -62.80, -63.21, -63.02,
    -63.06, -62.84, -63.28, -63.14, -62.93, -62.69, -63.00, -63.43, -63.17, -62.91,
    -62.79, -63.24, -63.10, -62.96, -62.85, -63.32, -63.56, -62.94, -63.08, -62.82,
    -63.11, -62.73, -63.25, -63.38, -63.02, -62.90, -62.83, -63.15, -62.62, -63.29,
    -62.96, -63.18, -63.07, -63.48, -63.20, -62.78, -63.24, -63.01, -62.88, -62.92,
    -63.13, -62.84, -63.39, -63.05, -62.71, -63.19, -63.61, -63.27, -62.98, -62.87,
    -63.29, -62.94, -63.15, -63.46, -63.09, -62.81, -62.90, -63.26, -63.35, -63.03,
    -62.85, -63.12, -62.97, -63.33, -62.74, -62.45, -63.21, -63.04, -62.93, -63.30,
    -63.08, -62.88, -63.42, -63.16, -62.99, -62.79, -63.25, -63.55, -63.11, -62.95,
    -62.82, -63.20, -63.01, -62.67, -63.37, -63.23, -62.91, -63.14, -63.47, -63.06,
    -63.23, -62.87, -63.10, -63.32, -62.94, -62.75, -63.05, -63.28, -62.84, -63.17,
    -62.97, -63.39, -63.18, -62.86, -62.60, -63.21, -63.00, -63.34, -62.89, -63.03,
    -63.14, -62.80, -63.90, -63.12, -63.26, -62.88, -63.07, -62.30, -62.93, -63.19,
    -63.02, -63.35, -62.83, -62.95, -63.13, -63.44, -62.77, -63.08, -63.24, -62.90,
    -62.99, -63.18, -62.71, -63.30, -63.01, -62.86, -63.39, -63.15, -62.93, -62.68,
    -63.21, -62.91, -63.06, -63.51, -63.27, -62.82, -62.97, -63.33, -62.74, -63.04,
    -62.94, -63.25, -63.12, -62.85, -62.63, -63.37, -63.16, -62.96, -62.87, -63.48,
    -63.00, -62.79, -63.23, -63.40, -63.59, -63.09, -62.95, -63.35, -63.18, -62.89,
]
MEAN_7_P = [17, 30, 40, 50, 60, 70, 76, 85, 95, 105, 115, 125, 135, 145, 158, 168,
            180, 190, 200, 210, 220, 230, 240, 255, 265, 275, 285, 295, 305, 315,
            322, 332]
MEAN_7_V = [-63.06, -63.07, -63.07, -63.08, -63.10, -63.14, -63.17, -63.13, -63.10,
            -63.06, -63.05, -63.08, -63.09, -63.11, -63.14, -63.07, -63.03, -63.02,
            -63.03, -63.04, -63.05, -63.06, -63.05, -63.06, -63.05, -63.01, -63.03,
            -63.04, -63.01, -62.99, -62.96, -62.98]

RM_8 = [
    -63.69, -62.75, -63.51, -62.99, -62.74, -62.62, -63.00, -63.56, -63.47, -63.19,
    -62.82, -63.62, -63.14, -62.70, -63.14, -63.61, -63.34, -63.25, -62.27, -63.13,
    -63.15, -62.90, -62.61, -62.90, -63.29, -62.60, -63.17, -62.82, -62.90, -63.21,
    -63.35, -63.34, -62.86, -63.08, -63.21, -62.75, -62.88, -63.08, -63.07, -62.78,
    -62.82, -62.97, -62.99, -63.14, -63.22, -63.26, -63.02, -63.00, -63.33, -63.00,
    -63.11, -63.34, -62.48, -62.78, -62.93, -63.07, -63.20, -63.02, -62.90, -63.56,
    -62.92, -62.68, -62.60, -62.90, -62.49, -63.22, -63.80, -62.59, -63.21, -63.02,
    -63.34, -63.34, -62.54, -63.17, -63.03, -63.04, -63.08, -62.26, -63.22, -63.02,
    -62.43, -63.04, -63.35, -63.11, -62.79, -63.51, -63.51, -63.11, -62.93, -62.75,
    -62.43, -62.49, -63.19, -62.97, -63.19, -62.99, -63.22, -63.07, -63.34, -62.63,
    -63.30, -63.48, -62.70, -63.65, -63.21, -62.94, -63.35, -62.92, -62.34, -62.48,
    -63.20, -62.96, -62.76, -63.14, -63.02, -62.90, -62.97, -62.92, -63.08, -63.19,
    -63.33, -63.07, -63.60, -62.97, -62.92, -63.63, -62.98, -62.71, -63.73, -63.14,
    -63.35, -62.93, -63.13, -62.92, -62.76, -63.03, -63.65, -62.94, -63.06, -62.75,
    -63.44, -63.08, -62.76, -62.90, -63.22, -62.92, -62.90, -62.96, -62.96, -63.59,
    -63.11, -63.35, -63.39, -63.46, -62.94, -62.85, -63.04, -63.11, -62.49, -63.03,
    -62.93, -62.80, -63.52, -62.82, -62.84, -62.94, -62.90, -63.03, -63.62, -62.43,
    -62.74, -63.22, -62.43, -62.79, -62.90, -63.08, -63.33, -62.70, -62.40, -62.24,
    -63.14, -62.76, -62.62, -62.99, -62.76, -62.61, -63.17, -62.75, -62.61, -62.90,
    -63.14, -63.60, -62.99, -63.38, -62.71, -62.61, -63.20, -62.68, -63.21, -62.65,
    -63.06, -63.17, -62.90, -62.82, -62.79, -63.37, -63.21, -62.94, -62.79, -62.70,
    -62.61, -62.60, -62.74, -62.49, -63.22, -63.22, -62.93, -62.92, -63.21, -63.19,
    -63.17, -63.51, -63.66, -63.17, -63.70, -62.93, -63.41, -62.78, -63.06, -62.90,
    -63.65, -63.35, -62.78, -62.17, -62.82, -63.21, -63.42, -62.68, -62.96, -63.13,
    -63.41, -63.11, -63.62, -63.03, -63.89, -62.78, -63.52, -62.97, -63.52, -63.27,
    -63.28, -63.14, -62.92, -62.68, -63.21, -63.58, -63.10, -62.83, -62.75, -63.14,
    -62.75, -63.53, -63.35, -63.00, -63.31, -63.55, -62.87, -63.52, -63.51, -63.15,
    -63.39, -63.20, -63.51, -62.84, -63.51, -63.22, -62.68, -63.42, -63.45, -62.90,
    -62.93, -62.81, -63.98, -62.83, -63.28, -63.08, -63.51, -63.63, -62.97, -63.08,
    -63.20, -62.97, -63.20, -63.20, -62.86, -62.78, -63.00, -63.15, -63.00, -63.49,
    -62.47, -63.02, -63.37, -63.20, -62.86, -63.03, -63.22, -62.86, -63.24, -62.65,
    -62.69, -62.93, -63.13, -63.48, -63.32, -63.65, -62.85, -63.22, -63.19, -63.32,
    -62.78, -63.41, -62.89, -63.49, -63.20, -63.06, -63.39, -63.37, -62.69, -62.78,
    -62.78, -63.32, -63.32, -63.25, -62.75, -63.03, -63.38, -62.75, -62.89, -62.70,
    -63.14, -63.26, -63.26, -62.87, -62.74, -62.82, -62.60, -63.60, -63.22, -63.14,
]
MEAN_8_P = [17.5, 22.6, 26.7, 33.4, 38.8, 44.2, 49.6, 55.0, 60.4, 65.8, 71.2, 73.9,
            79.3, 84.7, 88.8, 94.2, 98.2, 103.6, 109.0, 114.4, 121.1, 127.9, 131.9,
            136.0, 140.0, 145.4, 150.8, 156.2, 161.6, 165.7, 171.1, 176.5, 181.9,
            184.0, 188.1, 192.1, 194.8, 200.2, 205.6, 212.4, 219.1, 223.2, 229.9,
            236.7, 242.1, 248.9, 255.6, 262.4, 269.1, 275.9, 281.3, 286.7, 293.5,
            300.2, 305.6, 312.4, 319.1, 325.9, 331.3]
MEAN_8_V = [-63.06, -63.07, -63.04, -63.03, -63.02, -63.03, -63.02, -63.02, -63.01,
            -63.00, -63.02, -62.99, -63.00, -63.02, -63.03, -63.03, -63.02, -63.04,
            -63.07, -63.08, -63.07, -63.07, -63.08, -63.13, -63.07, -63.10, -63.08,
            -63.04, -63.03, -63.00, -62.95, -62.99, -62.94, -62.96, -62.94, -62.98,
            -62.93, -62.97, -63.06, -63.03, -63.04, -63.04, -63.14, -63.14, -63.13,
            -63.19, -63.24, -63.21, -63.22, -63.21, -63.17, -63.14, -63.10, -63.10,
            -63.08, -63.08, -63.08, -63.10, -63.08]

SERIES = [
    (RM_1, MEAN_1_P, MEAN_1_V),
    (RM_2, MEAN_2_P, MEAN_2_V),
    (RM_3, MEAN_3_P, MEAN_3_V),
    (RM_4, MEAN_4_P, MEAN_4_V),
    (RM_5, MEAN_5_P, MEAN_5_V),
    (RM_6, MEAN_6_P, MEAN_6_V),
    (RM_7, MEAN_7_P, MEAN_7_V),
    (RM_8, MEAN_8_P, MEAN_8_V),
]

# ---------------------------------------------------------------------------
# Layout / styling
# ---------------------------------------------------------------------------
Y_LIMITS = [(-64.62, -62.515), (-64.55, -62.80), (-64.57, -62.55), (-64.675, -62.52),
            (-64.79, -62.91), (-65.16, -62.88), (-64.23, -62.17), (-64.13, -62.07)]
FRAME_H = [118, 208, 209, 209, 209, 210, 207, 119]

FRAME_W = 1155
LEFT_B, RIGHT_B, TOP_B, BOTTOM_B = 68, 75, 60, 73
UNIT_W = 1351 - LEFT_B - FRAME_W - RIGHT_B   # strip holding the "RM [dBm]" caption
X_END = 349.1          # last profile shown
T_START = 21.873       # seconds after 17:02:00 at profile 0
RATE = 10.043          # profiles per second

FONT = "DejaVu Sans"
TXT = "#222222"
AXC = "#383838"
DOT = "#5a5aff"
MEANC = "#6464ff"
FS = "21px"


def style_axis(ax, tick_in_major, tick_in_minor):
    ax.major_tick_in = tick_in_major
    ax.major_tick_out = 0
    ax.minor_tick_in = tick_in_minor
    ax.minor_tick_out = 0
    ax.axis_line_color = None
    ax.major_tick_line_color = AXC
    ax.minor_tick_line_color = AXC
    ax.major_tick_line_width = 1.4
    ax.minor_tick_line_width = 1.0
    ax.major_label_text_font = FONT
    ax.major_label_text_font_size = FS
    ax.major_label_text_color = TXT
    ax.axis_label_text_font = FONT
    ax.axis_label_text_font_style = "normal"
    ax.axis_label_text_color = TXT
    ax.axis_label_text_font_size = FS


def tick_values(lo, hi):
    tenths = np.arange(math.ceil(lo * 10 - 1e-9), math.floor(hi * 10 + 1e-9) + 1) / 10.0
    frac = (tenths * 2) % 1
    major = np.isclose(frac, 0) | np.isclose(frac, 1)
    return tenths[major], tenths[~major]


x_range = Range1d(0, X_END)
minus_fmt = "return '\\u2212' + Math.abs(tick).toFixed(1);"
prof_major = list(range(0, 350, 50))
prof_minor = list(range(0, 350, 10))

rows = []
n = len(SERIES)
for i, (rm, mp, mv) in enumerate(SERIES):
    first, last = i == 0, i == n - 1
    lo, hi = Y_LIMITS[i]
    btop = TOP_B if first else 0
    bbot = BOTTOM_B if last else 0
    p = figure(frame_width=FRAME_W, frame_height=FRAME_H[i],
               x_range=x_range, y_range=Range1d(lo, hi),
               x_axis_location=None, y_axis_location=None,
               output_backend="svg", toolbar_location=None, min_border=0,
               min_border_left=LEFT_B, min_border_right=RIGHT_B,
               min_border_top=btop, min_border_bottom=bbot,
               background_fill_color="white", border_fill_color="white")
    p.xgrid.visible = False
    p.ygrid.visible = False
    p.outline_line_color = AXC
    p.outline_line_width = 1.0

    # left side: channel name (ticks are drawn as short rays below)
    left = LinearAxis(ticker=FixedTicker(ticks=[]), axis_label=LABELS[i])
    style_axis(left, 0, 0)
    left.major_label_standoff = 0
    left.axis_label_standoff = 36
    p.add_layout(left, "left")

    # right side: labelled RM axis
    right = LinearAxis(ticker=SingleIntervalTicker(interval=0.5, num_minor_ticks=5),
                       formatter=CustomJSTickFormatter(code=minus_fmt))
    style_axis(right, 23, 11)
    right.major_label_standoff = 9
    p.add_layout(right, "right")

    majors, minors = tick_values(lo, hi)
    p.ray(x=[0.0] * len(majors), y=majors, length=23, length_units="screen",
          angle=0.0, line_color=AXC, line_width=1.4)
    p.ray(x=[0.0] * len(minors), y=minors, length=11, length_units="screen",
          angle=0.0, line_color=AXC, line_width=1.0)

    if first:
        top = LinearAxis(ticker=FixedTicker(ticks=prof_major, minor_ticks=prof_minor),
                         axis_label="Profile")
        style_axis(top, 6, 3)
        top.major_label_standoff = 7
        top.axis_label_standoff = 2
        p.add_layout(top, "above")

    if last:
        p.extra_x_ranges = {"utc": Range1d(T_START, T_START + X_END / RATE)}
        utc = LinearAxis(x_range_name="utc",
                         ticker=FixedTicker(ticks=list(range(25, 60, 5)),
                                            minor_ticks=list(range(22, 57))),
                         formatter=CustomJSTickFormatter(
                             code="return '17:02:' + tick.toFixed(0);"),
                         axis_label="UTC")
        style_axis(utc, 6, 3)
        utc.major_label_standoff = 4
        utc.axis_label_standoff = 15
        p.add_layout(utc, "below")
    else:
        p.ray(x=prof_major, y=[lo] * len(prof_major), length=6, length_units="screen",
              angle=math.pi / 2, line_color=AXC, line_width=1.2)
        p.ray(x=prof_minor, y=[lo] * len(prof_minor), length=3, length_units="screen",
              angle=math.pi / 2, line_color=AXC, line_width=1.0)

    prof = np.arange(len(rm))
    p.scatter(prof, rm, marker="square", size=2.4, fill_color=DOT, line_color=None)
    p.line(mp, mv, line_color=MEANC, line_width=1.1)

    # narrow strip to the right carrying the rotated unit caption
    cap = figure(frame_width=UNIT_W, frame_height=FRAME_H[i],
                 x_range=Range1d(-1, 1), y_range=Range1d(-1, 1),
                 x_axis_location=None, y_axis_location=None,
                 output_backend="svg", toolbar_location=None, min_border=0,
                 min_border_left=0, min_border_right=0,
                 min_border_top=btop, min_border_bottom=bbot,
                 background_fill_color="white", border_fill_color="white")
    cap.xgrid.visible = False
    cap.ygrid.visible = False
    cap.outline_line_color = None
    cap.text(x=[-0.15], y=[0.0], text=["RM [dBm]"], angle=math.pi / 2,
             text_font=value(FONT), text_font_size=FS, text_color=TXT,
             text_align="center", text_baseline="middle")

    rows.append(row(p, cap, spacing=0))

layout = column(*rows, spacing=0)
open("out.html", "w").write(file_html(layout, INLINE))
